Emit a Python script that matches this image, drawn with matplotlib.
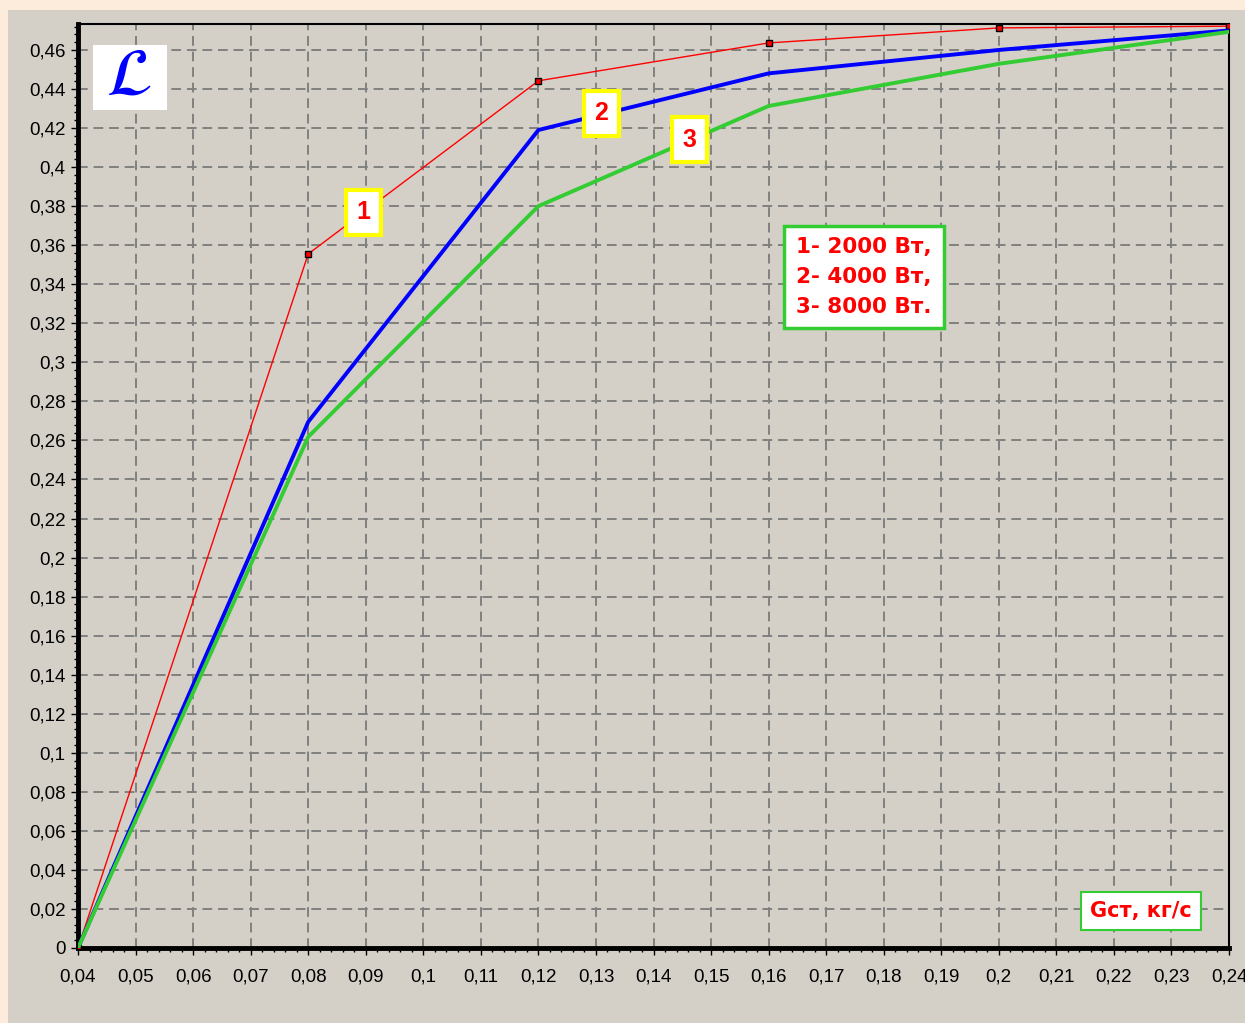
import matplotlib.pyplot as plt
import matplotlib.ticker as mticker
from matplotlib.patches import Rectangle

# data
g_st = [0.04, 0.08, 0.12, 0.16, 0.20, 0.24]
curve_2000 = [0.0, 0.3555, 0.4442, 0.4636, 0.4713, 0.4722]
curve_4000 = [0.0, 0.2695, 0.4190, 0.4480, 0.4600, 0.4700]
curve_8000 = [0.0, 0.2618, 0.3800, 0.4313, 0.4529, 0.4693]

curve_labels = ["1", "2", "3"]
label_pos = [(0.0896, 0.377), (0.1309, 0.4277), (0.1462, 0.4139)]
legend_lines = ["1- 2000 Вт,", "2- 4000 Вт,", "3- 8000 Вт."]
x_title = "Gст, кг/с"

plt.rcParams['font.family'] = ['Liberation Sans', 'DejaVu Sans']
plt.rcParams['mathtext.fontset'] = 'stix'

W, H = 1245, 1023
fig = plt.figure(figsize=(W / 100, H / 100), dpi=100)
fig.patch.set_facecolor('#fdebdc')
fig.patches.append(Rectangle((8 / W, 0), 1 - 8 / W, 1 - 10 / H, transform=fig.transFigure,
                             facecolor='#d4d0c8', edgecolor='none', zorder=-5))

ax = fig.add_axes([78 / W, 1 - 948 / H, (1229 - 78) / W, (948 - 24) / H])
ax.set_zorder(2)
ax.set_facecolor('#d4d0c8')

ax.plot(g_st, curve_2000, color='#ff0000', lw=1.0, marker='s', ms=4,
        mfc='#ff0000', mec='black', mew=1.0, zorder=3)
ax.plot(g_st, curve_4000, color='#0000ff', lw=2.8, zorder=3)
ax.plot(g_st, curve_8000, color='#33cc33', lw=2.8, zorder=3)

ax.set_xlim(0.04, 0.24)
ax.set_ylim(0, 0.4733)


def comma_fmt(v, pos):
    s = f"{v:.2f}".rstrip('0').rstrip('.')
    return s.replace('.', ',')


ax.xaxis.set_major_locator(mticker.MultipleLocator(0.01))
ax.yaxis.set_major_locator(mticker.MultipleLocator(0.02))
ax.xaxis.set_minor_locator(mticker.MultipleLocator(0.002))
ax.yaxis.set_minor_locator(mticker.MultipleLocator(0.004))
ax.xaxis.set_major_formatter(mticker.FuncFormatter(comma_fmt))
ax.yaxis.set_major_formatter(mticker.FuncFormatter(comma_fmt))
ax.tick_params(which='major', direction='out', length=5, width=1, labelsize=13.5, pad=4)
ax.tick_params(axis='x', which='major', pad=10)
ax.tick_params(which='minor', direction='out', length=3, width=1)

ax.grid(True, which='major', color='#808080', linestyle=(0, (5, 3)), linewidth=1.4)
ax.set_axisbelow(True)

for side in ['left', 'bottom']:
    ax.spines[side].set_linewidth(3.5)
for side in ['top', 'right']:
    ax.spines[side].set_linewidth(1.5)

# curve numbers
for lab, (x, y) in zip(curve_labels, label_pos):
    ax.text(x, y, lab, color='#ff0000', fontsize=18, fontweight='bold', ha='center',
            va='center', zorder=5,
            bbox=dict(facecolor='white', edgecolor='#ffff00', linewidth=3,
                      boxstyle='square,pad=0.42'))

# legend box
ax.text(0.1766, 0.3437, "\n".join(legend_lines), color='#ff0000', fontsize=15.5,
        fontweight='bold', family='DejaVu Sans', ha='center', va='center',
        linespacing=1.6, zorder=5,
        bbox=dict(facecolor='white', edgecolor='#33cc33', linewidth=2.5,
                  boxstyle='square,pad=0.55'))

# axis title box
ax.text(0.2247, 0.0189, x_title, color='#ff0000', fontsize=15, fontweight='bold',
        family='DejaVu Sans', ha='center', va='center', zorder=5,
        bbox=dict(facecolor='white', edgecolor='#33cc33', linewidth=1.5,
                  boxstyle='square,pad=0.45'))

# y symbol on a white card
ax.add_patch(Rectangle((0.013, 0.907), 0.0643, 0.0703, transform=ax.transAxes,
                       facecolor='white', edgecolor='none', zorder=4))
ax.text(0.0443, 0.942, r"$\mathcal{L}$", color='#0000ff', fontsize=48,
        ha='center', va='center', transform=ax.transAxes, zorder=5)

fig.savefig('out.png', dpi=100, facecolor=fig.get_facecolor())
